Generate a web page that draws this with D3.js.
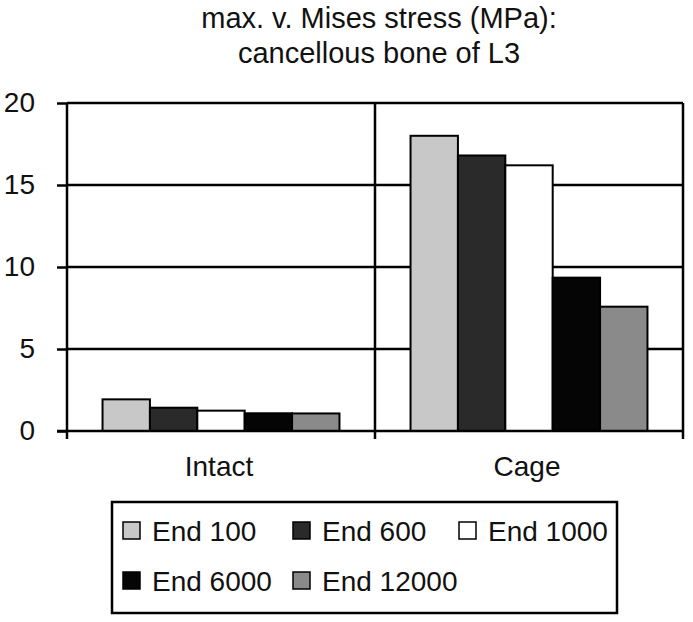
<!DOCTYPE html>
<html>
<head>
<meta charset="utf-8">
<script src="https://cdn.jsdelivr.net/npm/d3@7"></script>
<style>
  body { margin: 0; background: #fff; }
  svg { display: block; font-family: "Liberation Sans", Arial, sans-serif; }
</style>
</head>
<body>
<script>
const categories = ["Intact", "Cage"];
const seriesNames = ["End 100", "End 600", "End 1000", "End 6000", "End 12000"];
const intactValues = [1.93, 1.42, 1.24, 1.08, 1.07];
const cageValues = [18.0, 16.8, 16.2, 9.35, 7.58];
const yTicks = [0, 5, 10, 15, 20];
const titleLines = ["max. v. Mises stress (MPa):", "cancellous bone of L3"];

const colors = ["#c8c8c8", "#2a2a2a", "#ffffff", "#050505", "#8a8a8a"];

const w = 693, h = 622;
const plotLeft = 67, plotRight = 683, plotTop = 103, plotBottom = 431;

const data = categories.map((c, i) => ({
  cat: c,
  values: (i === 0 ? intactValues : cageValues).map((v, j) => ({ name: seriesNames[j], value: v, idx: j }))
}));

const svg = d3.select("body").append("svg")
  .attr("width", w)
  .attr("height", h);

const x0 = d3.scaleBand()
  .domain(categories)
  .range([plotLeft, plotRight])
  .padding(0);

const x1 = d3.scaleBand()
  .domain(seriesNames)
  .range([0, x0.bandwidth()])
  .paddingInner(0)
  .paddingOuter(0.75);

const y = d3.scaleLinear()
  .domain([0, 20])
  .range([plotBottom, plotTop]);

// title
svg.append("g")
  .selectAll("text")
  .data(titleLines)
  .enter()
  .append("text")
  .attr("x", 379)
  .attr("y", (d, i) => 28 + i * 35)
  .attr("text-anchor", "middle")
  .style("font-size", "29px")
  .attr("fill", "#111")
  .text(d => d)

// horizontal grid lines
svg.append("g")
  .selectAll("line")
  .data(yTicks.filter(t => t > 0))
  .enter()
  .append("line")
  .attr("x1", plotLeft)
  .attr("x2", plotRight)
  .attr("y1", d => y(d))
  .attr("y2", d => y(d))
  .attr("stroke", "#000")
  .attr("stroke-width", 2.5)

// vertical category separators
svg.append("g")
  .selectAll("line")
  .data(categories)
  .enter()
  .append("line")
  .attr("x1", d => x0(d) + x0.bandwidth())
  .attr("x2", d => x0(d) + x0.bandwidth())
  .attr("y1", plotTop)
  .attr("y2", plotBottom + 8)
  .attr("stroke", "#000")
  .attr("stroke-width", 2.5)

// bars
const groups = svg.append("g")
  .selectAll("g")
  .data(data)
  .enter()
  .append("g")
  .attr("transform", d => "translate(" + x0(d.cat) + ",0)")

groups.selectAll("rect")
  .data(d => d.values)
  .enter()
  .append("rect")
  .attr("x", d => x1(d.name))
  .attr("y", d => y(d.value))
  .attr("width", x1.bandwidth())
  .attr("height", d => y(0) - y(d.value))
  .attr("fill", d => colors[d.idx])
  .attr("stroke", "#000")
  .attr("stroke-width", 2)

// y axis
const yAxis = d3.axisLeft(y)
  .tickValues(yTicks)
  .tickSize(10)
  .tickPadding(22)
  .tickFormat(d3.format("d"));

const ya = svg.append("g")
  .attr("transform", "translate(" + plotLeft + ",0)")
  .call(yAxis)
ya.select(".domain").remove();
ya.selectAll(".tick line").attr("stroke", "#000").attr("stroke-width", 2.5);
ya.selectAll(".tick text")
  .style("font-size", "28px")
  .attr("fill", "#111")
  .attr("dy", "0.3em")

ya.append("line")
  .attr("x1", 0).attr("x2", 0)
  .attr("y1", plotTop).attr("y2", plotBottom + 8)
  .attr("stroke", "#000")
  .attr("stroke-width", 2.5)

// x axis line
svg.append("line")
  .attr("x1", plotLeft - 10)
  .attr("x2", plotRight)
  .attr("y1", y(0))
  .attr("y2", y(0))
  .attr("stroke", "#000")
  .attr("stroke-width", 2.5)

// category labels
svg.append("g")
  .selectAll("text")
  .data(categories)
  .enter()
  .append("text")
  .attr("x", d => x0(d) + x0.bandwidth() / 2 - 2)
  .attr("y", 476)
  .attr("text-anchor", "middle")
  .style("font-size", "28px")
  .attr("fill", "#111")
  .text(d => d)

// legend
const legend = svg.append("g").attr("id", "legend");
legend.append("rect")
  .attr("x", 112)
  .attr("y", 502)
  .attr("width", 505)
  .attr("height", 111)
  .attr("fill", "#fff")
  .attr("stroke", "#000")
  .attr("stroke-width", 2.5)

const colX = [123, 293, 459];
const rowY = [522, 572];

const items = legend.selectAll("g.item")
  .data(seriesNames)
  .enter()
  .append("g")
  .attr("class", "item")
  .attr("transform", (d, i) => "translate(" + colX[i % 3] + "," + rowY[Math.floor(i / 3)] + ")")

items.append("rect")
  .attr("width", 17)
  .attr("height", 17)
  .attr("fill", (d, i) => colors[i])
  .attr("stroke", "#000")
  .attr("stroke-width", 1.5)

items.append("text")
  .attr("x", 29)
  .attr("y", 19)
  .style("font-size", "28px")
  .attr("fill", "#111")
  .text(d => d)
</script>
</body>
</html>
